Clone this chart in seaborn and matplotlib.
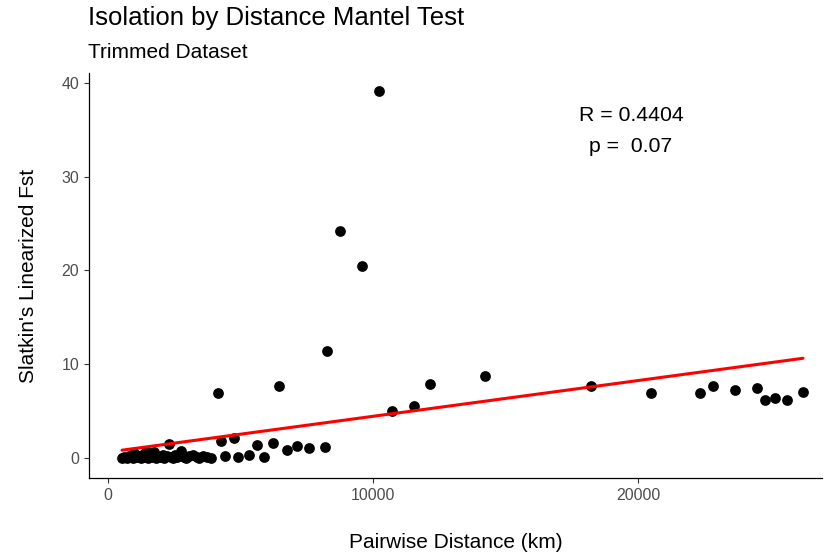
import numpy as np
import pandas as pd
import matplotlib
matplotlib.use("Agg")
import matplotlib.pyplot as plt
import seaborn as sns

# pairwise distance (km) vs Slatkin's linearized Fst
distance = [530, 620, 700, 780, 850, 930, 1000, 1080, 1150, 1230, 1300, 1380,
            1450, 1520, 1600, 1680, 1750, 1830, 1900, 1980, 2060, 2130, 2210,
            2300, 2370, 2450, 2530, 2620, 2750, 2880, 2960, 3050, 3200, 3350,
            3450, 3600, 3750, 3900,
            4151, 4264, 4415, 4755, 4906, 5321, 5623, 5887, 6226, 6453, 6755,
            7132, 7585, 8189, 8264, 8755, 9585, 10226, 10717, 11547, 12151,
            14226, 18226, 20490, 22340, 22830, 23660, 24490, 24790, 25170,
            25620, 26230]
fst = [0.0, 0.1, 0.0, 0.2, 0.1, 0.0, 0.5, 0.1, 0.2, 0.0, 0.3, 0.1,
       0.8, 0.0, 0.2, 0.1, 0.6, 0.0, 0.2, 0.1, 0.3, 0.0, 0.2,
       1.5, 0.1, 0.0, 0.3, 0.1, 0.7, 0.1, 0.0, 0.2, 0.3, 0.1,
       0.0, 0.2, 0.1, 0.0,
       6.9, 1.8, 0.2, 2.1, 0.1, 0.3, 1.4, 0.1, 1.6, 7.7, 0.9,
       1.3, 1.1, 1.2, 11.4, 24.2, 20.5, 39.1, 5.0, 5.5, 7.9,
       8.7, 7.7, 6.9, 6.9, 7.7, 7.2, 7.5, 6.2, 6.4,
       6.2, 7.0]

df = pd.DataFrame({"distance": distance, "fst": fst})

sns.set_style("ticks")
plt.rcParams["font.family"] = ["Liberation Sans", "DejaVu Sans"]
plt.rcParams["text.color"] = "black"
plt.rcParams["axes.labelcolor"] = "black"

fig = plt.figure(figsize=(8.26, 5.54), dpi=100)
ax = fig.add_axes([0.1077, 0.1372, 0.8873, 0.7308])

sns.regplot(data=df, x="distance", y="fst", ax=ax, ci=None, truncate=True,
            scatter_kws={"s": 60, "color": "black", "alpha": 1, "linewidths": 0},
            line_kws={"color": "red", "lw": 2.2})

ax.set_xlim(-717, 26943)
ax.set_ylim(-2.13, 41.04)
ax.set_xticks([0, 10000, 20000])
ax.set_yticks([0, 10, 20, 30, 40])
ax.tick_params(axis="both", labelsize=11.4, labelcolor="#4D4D4D", length=3.5,
               width=0.8, color="#333333")
for s in ["left", "bottom"]:
    ax.spines[s].set_linewidth(0.9)
    ax.spines[s].set_color("black")
sns.despine(ax=ax)

ax.set_xlabel("Pairwise Distance (km)", fontsize=15, labelpad=22)
ax.set_ylabel("Slatkin's Linearized Fst", fontsize=15, labelpad=17)

ax.text(19736, 36.5, "R = 0.4404", ha="center", va="center", fontsize=15.3)
ax.text(19736, 33.2, "p =  0.07", ha="center", va="center", fontsize=15.3)

fig.text(0.1065, 0.967, "Isolation by Distance Mantel Test", fontsize=18.5,
         ha="left", va="center")
fig.text(0.1065, 0.906, "Trimmed Dataset", fontsize=15, ha="left", va="center")

fig.savefig("out.png", dpi=100)
